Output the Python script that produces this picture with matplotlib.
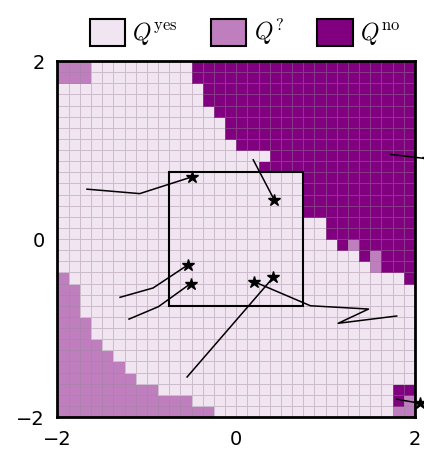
import numpy as np
import matplotlib
matplotlib.use("Agg")
import matplotlib.pyplot as plt
from matplotlib.colors import ListedColormap
from matplotlib.patches import Patch, Rectangle

plt.rcParams['mathtext.fontset'] = 'cm'
plt.rcParams['font.family'] = ['DejaVu Sans']

# Cell classes, top row first: '.' = yes, '?' = maybe, 'N' = no
grid_rows = [
    "???.........NNNNNNNNNNNNNNNNNNNN",
    "???.........NNNNNNNNNNNNNNNNNNNN",
    ".............NNNNNNNNNNNNNNNNNNN",
    ".............NNNNNNNNNNNNNNNNNNN",
    "..............NNNNNNNNNNNNNNNNNN",
    "...............NNNNNNNNNNNNNNNNN",
    "...............NNNNNNNNNNNNNNNNN",
    "................NNNNNNNNNNNNNNNN",
    "...................NNNNNNNNNNNNN",
    "..................NNNNNNNNNNNNNN",
    "......................NNNNNNNNNN",
    "......................NNNNNNNNNN",
    "......................NNNNNNNNNN",
    "......................NNNNNNNNNN",
    "........................NNNNNNNN",
    "........................NNNNNNNN",
    ".........................N?NNNNN",
    "...........................N?NNN",
    "............................?NNN",
    "?..............................N",
    "??..............................",
    "??..............................",
    "??..............................",
    "???.............................",
    "???.............................",
    "????............................",
    "?????...........................",
    "??????..........................",
    "???????.........................",
    "?????????.....................NN",
    "????????????..................N?",
    "??????????????................??",
]
class_codes = {".": 0, "?": 1, "N": 2}
class_labels = [r"$Q^{\rm yes}$", r"$Q^{?}$", r"$Q^{\rm no}$"]
class_colors = ["#f2e5f2", "#bf7fbf", "#800080"]

x_range = (-2.0, 2.0)
y_range = (-2.0, 2.0)
box_half = 0.75

# trajectories (x list, y list); star at last point
traj_x = [
    [-1.67, -1.08, -0.49],
    [0.19, 0.425],
    [-1.30, -0.93, -0.54],
    [-1.20, -0.87, -0.51],
    [-0.55, 0.415],
    [1.795, 1.14, 1.48, 0.83, 0.20],
    [1.73, 2.15],
    [1.795, 2.056],
]
traj_y = [
    [0.56, 0.51, 0.70],
    [0.89, 0.44],
    [-0.655, -0.55, -0.29],
    [-0.90, -0.76, -0.50],
    [-1.55, -0.43],
    [-0.865, -0.947, -0.787, -0.75, -0.48],
    [0.95, 0.90],
    [-1.80, -1.846],
]

assert all(len(r) == 32 for r in grid_rows)
Z = np.array([[class_codes[c] for c in r] for r in grid_rows])[::-1]
n = Z.shape[0]
xe = np.linspace(x_range[0], x_range[1], n + 1)
ye = np.linspace(y_range[0], y_range[1], n + 1)

fig = plt.figure(figsize=(4.24, 4.58), dpi=100)
ax = fig.add_axes([0.1356, 0.0895, 0.8432, 0.7773])
ax.pcolormesh(xe, ye, Z, cmap=ListedColormap(class_colors), vmin=-0.5, vmax=2.5,
              edgecolors=(0.6, 0.52, 0.6, 0.42), linewidth=0.7)
ax.add_patch(Rectangle((-box_half, -box_half), 2 * box_half, 2 * box_half,
                       fill=False, edgecolor="black", lw=1.5, zorder=3))
for tx, ty in zip(traj_x, traj_y):
    ax.plot(tx, ty, color="black", lw=1.1, zorder=4, clip_on=False)
    ax.plot(tx[-1], ty[-1], marker="*", color="black", ms=9, zorder=5, clip_on=False)

ax.set_xlim(*x_range)
ax.set_ylim(*y_range)
ax.set_xticks([-2, 0, 2])
ax.set_yticks([-2, 0, 2])
ax.tick_params(length=0, labelsize=14, pad=9)
for s in ax.spines.values():
    s.set_linewidth(2)

handles = [Patch(facecolor=c, edgecolor="black", lw=1.5) for c in class_colors]
fig.legend(handles, class_labels, loc="upper center", bbox_to_anchor=(0.578, 1.01),
           ncol=3, frameon=False, fontsize=17, handlelength=1.5, handleheight=1.4,
           handletextpad=0.3, columnspacing=1.4)
fig.savefig("out.png", dpi=100)
